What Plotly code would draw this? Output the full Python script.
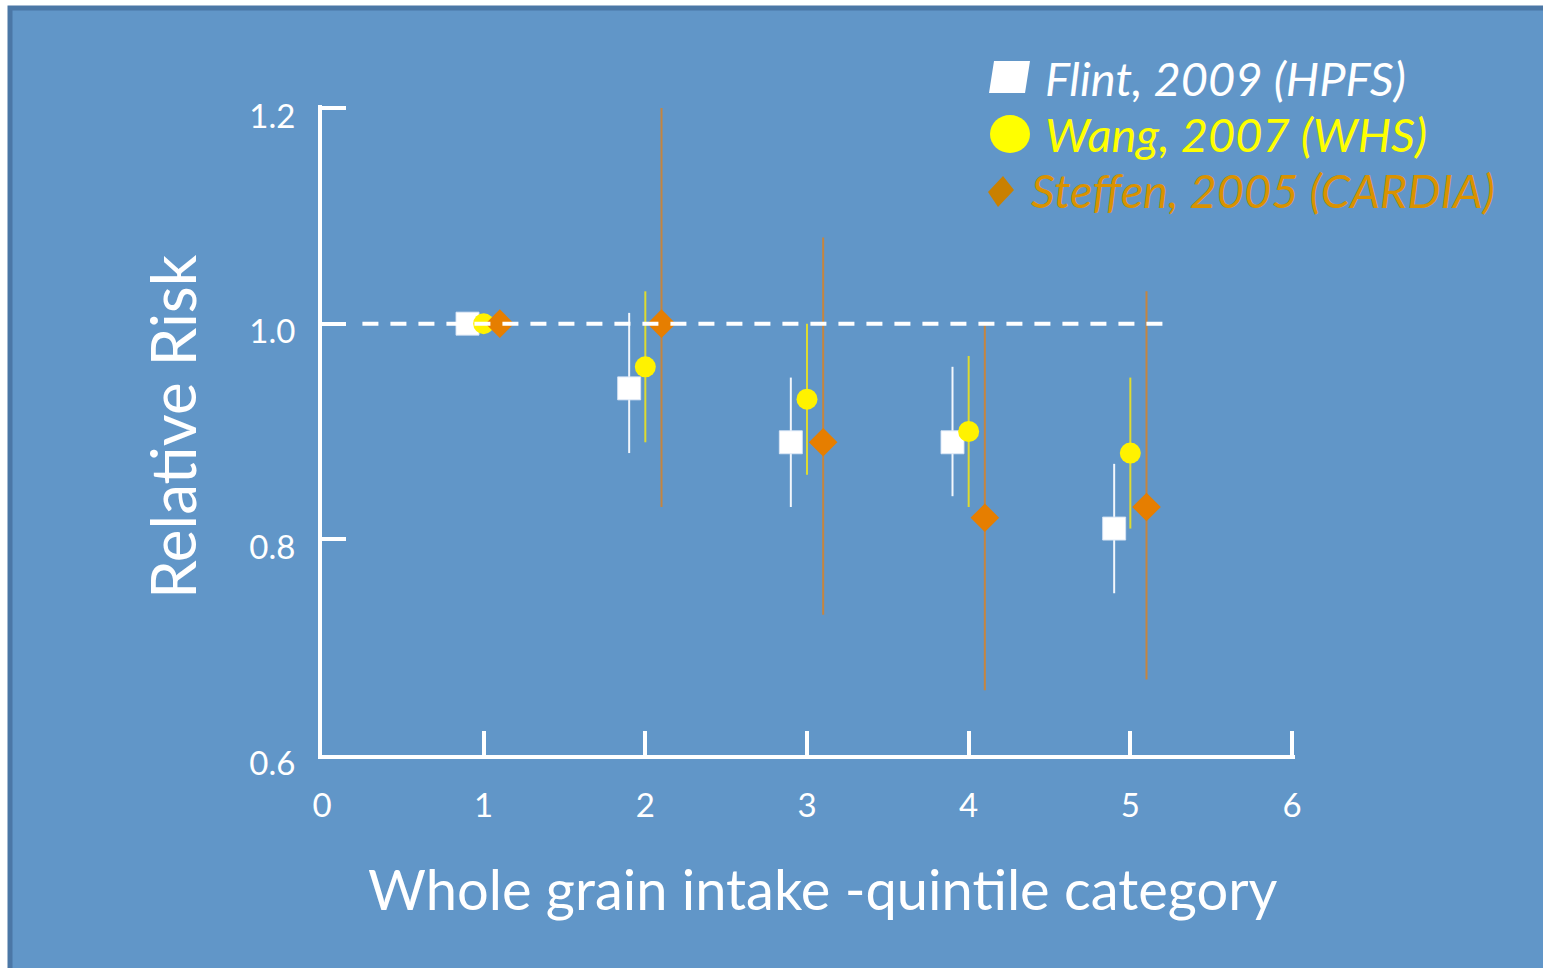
import plotly.graph_objects as go

# Quintile categories of whole grain intake
quintile = [1, 2, 3, 4, 5]

# Relative risk with 95% confidence limits, per cohort
flint_rr = [1.00, 0.94, 0.89, 0.89, 0.81]
flint_lo = [1.00, 0.88, 0.83, 0.84, 0.75]
flint_hi = [1.00, 1.01, 0.95, 0.96, 0.87]

wang_rr = [1.00, 0.96, 0.93, 0.90, 0.88]
wang_lo = [1.00, 0.89, 0.86, 0.83, 0.81]
wang_hi = [1.00, 1.03, 1.00, 0.97, 0.95]

steffen_rr = [1.00, 1.00, 0.89, 0.82, 0.83]
steffen_lo = [1.00, 0.83, 0.73, 0.66, 0.67]
steffen_hi = [1.00, 1.20, 1.08, 1.00, 1.03]

series_names = ["Flint, 2009 (HPFS)", "Wang, 2007 (WHS)", "Steffen, 2005 (CARDIA)"]
x_ticks = [0, 1, 2, 3, 4, 5, 6]
y_ticks = [0.6, 0.8, 1.0, 1.2]
x_lim = [0, 6]
y_lim = [0.6, 1.2]
ref_rr = 1.0
ref_span = [0.25, 5.2]

W, H = 1543, 968
# plot area spans x 322..1292 and y 108..755; a few extra px at the far ends
# keep the end ticks (6 and 1.2) from being clipped
END_PAD = 3
ML, MB = 322, 213
MR, MT = 251 - END_PAD, 108 - END_PAD
PW0, PH0 = 970, 647
BG = "#6196C8"
FONT = "Lato"

x_range = [x_lim[0], x_lim[1] + (x_lim[1] - x_lim[0]) * END_PAD / PW0]
y_range = [y_lim[0], y_lim[1] + (y_lim[1] - y_lim[0]) * END_PAD / PH0]
PW, PH = W - ML - MR, H - MT - MB


def px(x):
    return (x - ML) / PW


def py(y):
    return (H - MB - y) / PH


def errs(rr, lo, hi):
    return ([h - r for r, h in zip(rr, hi)], [r - l for r, l in zip(rr, lo)])


fig = go.Figure()

specs = [
    (flint_rr, flint_lo, flint_hi, -0.1, "square", 23, "#FFFFFF",
     dict(color="rgba(215,228,245,0.9)", width=1), "rgba(250,252,255,0.95)"),
    (wang_rr, wang_lo, wang_hi, 0.0, "circle", 21, "#FFF200",
     dict(width=0), "rgba(245,232,20,0.85)"),
    (steffen_rr, steffen_lo, steffen_hi, 0.1, "diamond", 22, "#E67E00",
     dict(width=0), "rgba(215,130,40,0.85)"),
]

for name, (rr, lo, hi, off, sym, size, col, mline, ecol) in zip(series_names, specs):
    up, dn = errs(rr, lo, hi)
    fig.add_trace(go.Scatter(
        x=[q + off for q in quintile], y=rr, mode="markers", name=name,
        marker=dict(symbol=sym, size=size, color=col, line=mline),
        error_y=dict(type="data", symmetric=False, array=up, arrayminus=dn,
                     color=ecol, thickness=2, width=0),
        showlegend=False,
    ))

# Reference line at RR = 1
fig.add_trace(go.Scatter(
    x=ref_span, y=[ref_rr, ref_rr], mode="lines",
    line=dict(color="white", width=4, dash="16px,12px"),
    showlegend=False, hoverinfo="skip",
))

shapes = [
    # slide frame
    dict(type="rect", xref="paper", yref="paper",
         x0=px(10), x1=px(1600), y0=py(1100), y1=py(8),
         fillcolor=BG, line=dict(color="#4B77A6", width=5), layer="below"),
]


# legend keys (slanted like the italic text next to them)
def path(pts):
    return "M " + " L ".join(f"{px(a)},{py(b)}" for a, b in pts) + " Z"


shapes.append(dict(type="path", xref="paper", yref="paper",
                   path=path([(994, 61), (1030, 61), (1025, 93), (989, 93)]),
                   fillcolor="#FFFFFF", line=dict(width=0)))
shapes.append(dict(type="circle", xref="paper", yref="paper",
                   x0=px(990), x1=px(1030), y0=py(153), y1=py(115),
                   fillcolor="#FFFF00", line=dict(width=0)))
shapes.append(dict(type="path", xref="paper", yref="paper",
                   path=path([(988, 192), (1003, 176), (1014, 190), (998, 207)]),
                   fillcolor="#C98000", line=dict(width=0)))

LEG_SIZE = 47
annotations = [
    dict(text="<i>Flint, 2009 (HPFS)</i>", x=px(1043), y=py(78), xref="paper", yref="paper",
         xanchor="left", yanchor="middle", showarrow=False,
         font=dict(family=FONT, size=LEG_SIZE, color="#FFFFFF")),
    dict(text="<i>Wang, 2007 (WHS)</i>", x=px(1043), y=py(134), xref="paper", yref="paper",
         xanchor="left", yanchor="middle", showarrow=False,
         font=dict(family=FONT, size=LEG_SIZE, color="#FFFF00")),
    dict(text="<i>Steffen, 2005 (CARDIA)</i>", x=px(1029), y=py(190), xref="paper", yref="paper",
         xanchor="left", yanchor="middle", showarrow=False,
         font=dict(family=FONT, size=LEG_SIZE, color="#D99200")),
    dict(text="Relative Risk", x=px(172), y=py(427), xref="paper", yref="paper",
         xanchor="center", yanchor="middle", textangle=-90, showarrow=False,
         font=dict(family=FONT, size=62, color="white")),
    dict(text="Whole grain intake -quintile category", x=px(823), y=py(888),
         xref="paper", yref="paper", xanchor="center", yanchor="middle", showarrow=False,
         font=dict(family=FONT, size=56, color="white")),
]

axis_common = dict(showgrid=False, zeroline=False, showline=True, linecolor="white",
                   linewidth=4, ticks="inside", ticklen=24, tickwidth=4, tickcolor="white",
                   tickfont=dict(family=FONT, size=33, color="white"), fixedrange=True)

fig.update_layout(
    width=W, height=H,
    margin=dict(l=ML, r=MR, t=MT, b=MB, autoexpand=False),
    paper_bgcolor="white", plot_bgcolor="rgba(0,0,0,0)",
    xaxis=dict(range=x_range, tickvals=x_ticks, ticklabelstandoff=18, **axis_common),
    yaxis=dict(range=y_range, tickvals=y_ticks, tickformat=".1f",
               ticklabelstandoff=16, ticklabelshift=8, **axis_common),
    shapes=shapes, annotations=annotations, showlegend=False,
)

fig.write_html("out.html")
